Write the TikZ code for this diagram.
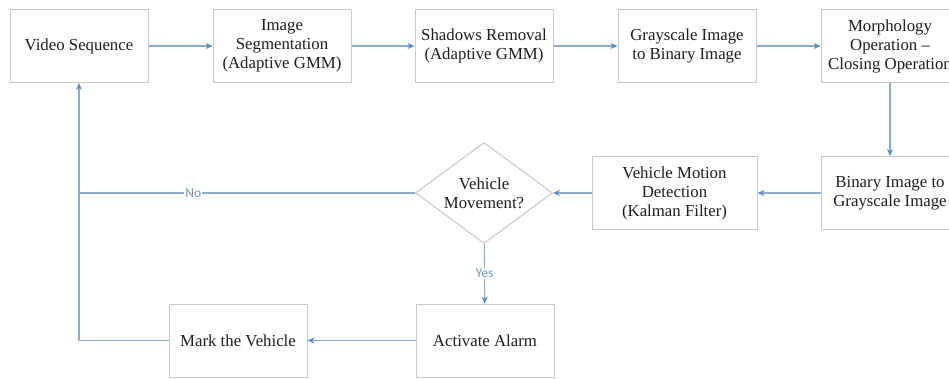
\documentclass[tikz,border=0pt]{standalone}
\usepackage{fontspec}
\setmainfont{Liberation Serif}
\newfontfamily\labelfont{Carlito}
\usetikzlibrary{shapes.geometric, arrows, positioning, calc}
\definecolor{flowline}{RGB}{140, 172, 206}
\definecolor{flowtip}{RGB}{84, 140, 198}
\definecolor{flowborder}{RGB}{200, 200, 200}
\definecolor{flowtext}{RGB}{30, 30, 30}
\definecolor{flowlabel}{RGB}{110, 150, 190}
\tikzstyle{stepbox} = [rectangle, draw=flowborder, line width=1pt, fill=white, minimum width=138, minimum height=73, align=center, text=flowtext, font=\fontsize{16.8}{19}\selectfont]
\tikzstyle{decision} = [diamond, draw=flowborder, line width=1pt, fill=white, aspect=1.36, inner sep=0pt, minimum width=137, minimum height=101, align=center, text=flowtext, font=\fontsize{16.8}{19}\selectfont]
\tikzstyle{arrow} = [line width=1.1pt, flowline, -{Stealth[length=7pt, width=6pt, flowtip]}]
\tikzstyle{plain} = [line width=1.1pt, flowline]
\tikzstyle{lbl} = [fill=white, inner sep=1pt, text=flowlabel, font=\labelfont\fontsize{13.5}{15}\selectfont]
\usetikzlibrary{arrows.meta}

\begin{document}
\begin{tikzpicture}[x=1pt, y=1pt]
\useasboundingbox (0,0) rectangle (949,378);

% top row
\node[stepbox] (vid) at (79,332) {Video Sequence};
\node[stepbox] (seg) at (282,332) {Image\\Segmentation\\(Adaptive GMM)};
\node[stepbox] (shad) at (484,332) {Shadows Removal\\(Adaptive GMM)};
\node[stepbox] (gtob) at (687,332) {Grayscale Image\\to Binary Image};
\node[stepbox] (morph) at (890,332) {Morphology\\Operation --\\Closing Operation};

% middle row
\node[stepbox] (btog) at (890,185) {Binary Image to\\Grayscale Image};
\node[stepbox, minimum width=165] (kal) at (674.5,185) {Vehicle Motion\\Detection\\(Kalman Filter)};
\node[decision] (move) at (484,185) {Vehicle\\Movement?};

% bottom row
\node[stepbox] (alarm) at (485,37.5) {Activate Alarm};
\node[stepbox] (mark) at (238,37.5) {Mark the Vehicle};

% connectors
\draw[arrow] (vid) -- (seg);
\draw[arrow] (seg) -- (shad);
\draw[arrow] (shad) -- (gtob);
\draw[arrow] (gtob) -- (morph);
\draw[arrow] (morph) -- (btog);
\draw[arrow] (btog) -- (kal);
\draw[arrow] (kal) -- (move);
\draw[arrow] (move) -- node[lbl] {Yes} (alarm);
\draw[arrow] (alarm) -- (mark);
\draw[arrow] (mark.west) -| (vid.south);
\draw[plain] (move.west) -- node[lbl, pos=0.66] {No} (move.west -| vid.south);
\end{tikzpicture}
\end{document}
